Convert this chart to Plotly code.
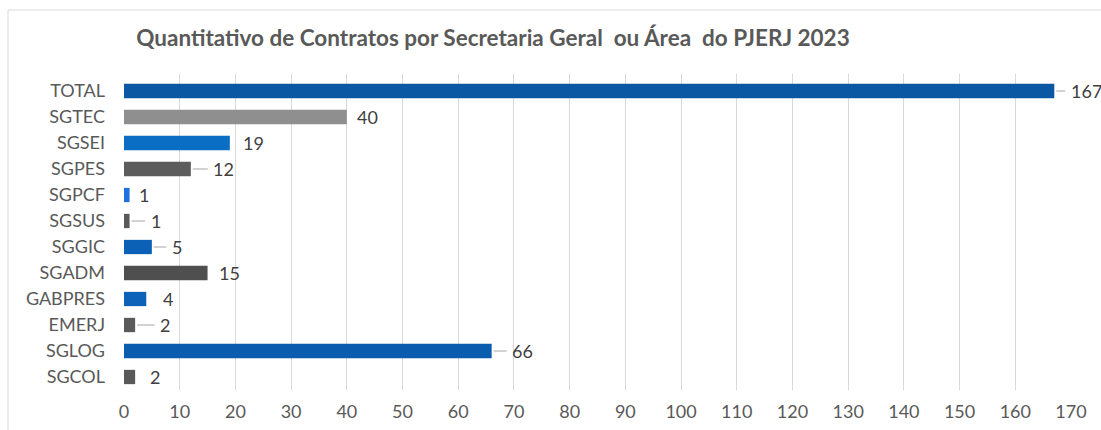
import plotly.graph_objects as go

categories = ["TOTAL", "SGTEC", "SGSEI", "SGPES", "SGPCF", "SGSUS", "SGGIC",
              "SGADM", "GABPRES", "EMERJ", "SGLOG", "SGCOL"]
values = [167, 40, 19, 12, 1, 1, 5, 15, 4, 2, 66, 2]
tick_values = list(range(0, 171, 10))

bar_colors = ["#0a57a3", "#8f8f8f", "#0a6fc4", "#5c5c5c", "#1f70e0", "#595959",
              "#0b61b6", "#4f4f4f", "#0b62b8", "#5a5a5a", "#0a5caf", "#595959"]
label_offsets = [32, 21, 24, 33, 14, 26, 25, 22, 22, 30, 31, 20]
label_leader = [True, False, False, True, False, True, True, False, False, True, True, False]

fig = go.Figure()
fig.add_trace(go.Bar(
    x=values, y=categories, orientation="h",
    marker=dict(color=bar_colors, line=dict(width=0)),
    hoverinfo="x+y",
))

label_font = dict(family="Lato", size=18, color="#404040")
annotations = []
for c, v, off, lead in zip(categories, values, label_offsets, label_leader):
    if lead:
        annotations.append(dict(
            x=v, y=c, xref="x", yref="y", text=str(v), showarrow=True,
            arrowhead=0, arrowwidth=1, arrowcolor="#a6a6a6", ax=off, ay=0,
            standoff=2, borderpad=5, font=label_font,
        ))
    else:
        annotations.append(dict(
            x=v, y=c, xref="x", yref="y", text=str(v), showarrow=False,
            xshift=off, font=label_font,
        ))

fig.update_layout(
    width=1101, height=430,
    margin=dict(l=124, r=30, t=74, b=40),
    paper_bgcolor="white", plot_bgcolor="white",
    bargap=0.45,
    showlegend=False,
    title=dict(
        text="Quantitativo de Contratos por Secretaria Geral&nbsp; ou Área&nbsp; do PJERJ 2023",
        x=493 / 1101, xanchor="center", y=1 - 38 / 430, yanchor="middle",
        font=dict(family="Lato", size=22.5, color="#595959", weight="bold"),
    ),
    xaxis=dict(
        range=[0, 170], tickvals=tick_values, showgrid=True, gridcolor="#d9d9d9",
        gridwidth=1, zeroline=False, showline=False, automargin=False,
        tickfont=dict(family="Lato", size=18, color="#595959"),
        ticklabelstandoff=9, fixedrange=True,
    ),
    yaxis=dict(
        categoryorder="array", categoryarray=categories, autorange="reversed",
        showgrid=False, zeroline=False, showline=False, automargin=False,
        tickfont=dict(family="Lato", size=18, color="#595959"),
        ticklabelstandoff=18,
    ),
    annotations=annotations,
    shapes=[
        dict(type="line", xref="paper", yref="paper",
             x0=-116 / 947, x1=-116 / 947, y0=-0.2, y1=1 + 64 / 316,
             line=dict(color="#d9d9d9", width=1)),
        dict(type="line", xref="paper", yref="paper",
             x0=-116 / 947, x1=1.1, y0=1 + 64 / 316, y1=1 + 64 / 316,
             line=dict(color="#d9d9d9", width=1)),
    ],
)

fig.write_html("out.html", config={"displayModeBar": False},
               post_script="document.body.style.margin='0';document.body.style.overflow='hidden';")
